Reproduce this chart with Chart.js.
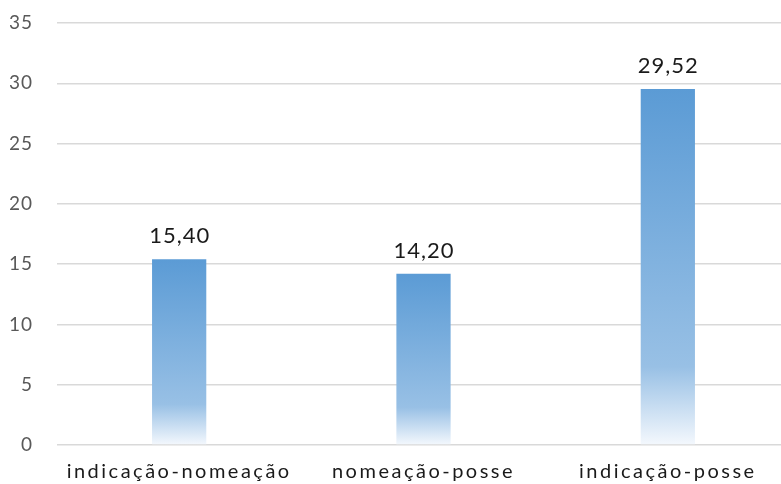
<!DOCTYPE html>
<html>
<head>
<meta charset="utf-8">
<script src="https://cdn.jsdelivr.net/npm/chart.js@4/dist/chart.umd.min.js"></script>
<style>
  html, body { margin: 0; padding: 0; background: #fff; overflow: hidden; }
  #wrap { width: 790px; height: 484px; }
</style>
</head>
<body>
<div id="wrap"><canvas id="c" width="790" height="484"></canvas></div>
<script>
const categories = ['indicação-nomeação', 'nomeação-posse', 'indicação-posse'];
const values = [15.40, 14.20, 29.52];
const yTicks = [0, 5, 10, 15, 20, 25, 30, 35];

const FONT = 'Lato, "DejaVu Sans", sans-serif';

// Each bar gets its own vertical gradient, blue at the top fading to white at the base
function barGradient(ctx) {
  const chart = ctx.chart;
  if (!chart.chartArea || !chart.scales.y) return '#5B9BD5';
  const y = chart.scales.y;
  const top = y.getPixelForValue(values[ctx.dataIndex]);
  const base = y.getPixelForValue(0);
  const g = chart.ctx.createLinearGradient(0, top, 0, base);
  g.addColorStop(0, '#5B9BD5');
  g.addColorStop(0.78, '#98C0E5');
  g.addColorStop(1, '#F4F8FD');
  return g;
}

// Wider letter spacing for the axis labels (wide geometric look)
const spacedLabels = {
  id: 'spacedLabels',
  afterLayout(chart) {
    [['x', '2.5px'], ['y', '1px']].forEach(([id, sp]) => {
      const scale = chart.scales[id];
      if (!scale || scale._spaced) return;
      const orig = scale.drawLabels;
      scale.drawLabels = function (area) {
        const c = this.ctx;
        c.save();
        c.letterSpacing = sp;
        orig.call(this, area);
        c.restore();
      };
      scale._spaced = true;
    });
  }
};

// Value labels above the bars, with comma decimal separator
const valueLabels = {
  id: 'valueLabels',
  afterDatasetsDraw(chart) {
    const ctx = chart.ctx;
    const meta = chart.getDatasetMeta(0);
    ctx.save();
    ctx.font = '22px ' + FONT;
    ctx.letterSpacing = '1px';
    ctx.fillStyle = '#1a1a1a';
    ctx.textAlign = 'center';
    ctx.textBaseline = 'alphabetic';
    meta.data.forEach((bar, i) => {
      ctx.fillText(values[i].toFixed(2).replace('.', ','), bar.x + 0.5, bar.y - 16);
    });
    ctx.restore();
  }
};

new Chart(document.getElementById('c'), {
  type: 'bar',
  data: {
    labels: categories,
    datasets: [{
      data: values,
      backgroundColor: barGradient,
      borderWidth: 0,
      barPercentage: 0.222,
      categoryPercentage: 1
    }]
  },
  options: {
    responsive: false,
    animation: false,
    layout: { padding: { top: 23, left: 10, right: 0, bottom: 0 } },
    plugins: { legend: { display: false }, tooltip: { enabled: false } },
    scales: {
      x: {
        grid: { display: false, drawTicks: false },
        border: { display: false },
        ticks: { color: '#1a1a1a', font: { family: FONT, size: 20 }, padding: 15, maxRotation: 0 },
        afterFit(axis) { axis.height = 39; }
      },
      y: {
        min: 0,
        max: 35,
        afterBuildTicks(axis) { axis.ticks = yTicks.map(v => ({ value: v })); },
        afterFit(axis) { axis.width = 47; axis.paddingTop = 0; axis.paddingBottom = 0; },
        grid: { color: '#D9D9D9', lineWidth: 1.5, drawTicks: false },
        border: { display: false },
        ticks: { color: '#595959', font: { family: FONT, size: 19 }, padding: 24 }
      }
    }
  },
  plugins: [spacedLabels, valueLabels]
});
</script>
</body>
</html>
